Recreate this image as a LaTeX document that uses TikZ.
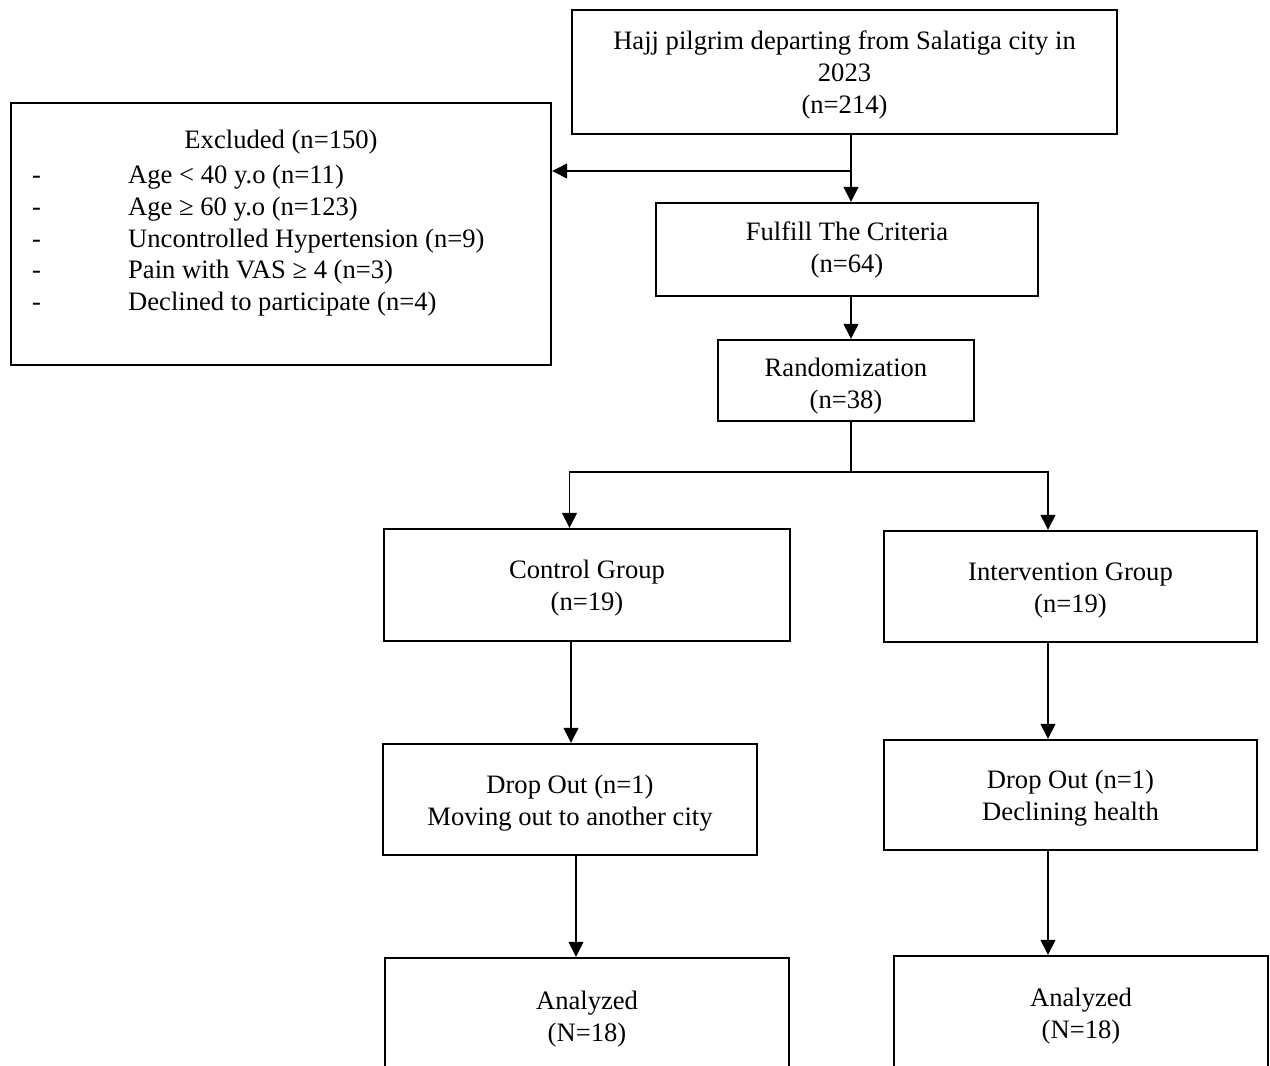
\documentclass[tikz,border=0pt]{standalone}
\usepackage{fontspec}
\setmainfont{Liberation Serif}
\usetikzlibrary{arrows.meta}
\newcommand\diagfont{\fontsize{26.6}{32}\selectfont}
\begin{document}
\begin{tikzpicture}[x=1pt,y=-1pt,
  box/.style={draw, line width=2.4pt, rectangle, inner sep=0pt},
  txt/.style={inner sep=0pt, font=\diagfont, align=center},
  conn/.style={line width=1.3pt},
  arr/.style={conn, -{Triangle[length=15pt,width=15pt]}}
]
\useasboundingbox (0,0) rectangle (1270,1066);
\clip (0,0) rectangle (1270,1066);

% boxes
\node[box, minimum width=545pt, minimum height=124pt] (top) at (844.5,72) {};
\node[box, minimum width=540pt, minimum height=262pt] (excl) at (281,234) {};
\node[box, minimum width=382pt, minimum height=93pt] (ful) at (847,249.5) {};
\node[box, minimum width=256pt, minimum height=81pt] (rand) at (846,380.5) {};
\node[box, minimum width=406pt, minimum height=112pt] (ctrl) at (587,585) {};
\node[box, minimum width=373pt, minimum height=111pt] (intv) at (1070.5,586.5) {};
\node[box, minimum width=374pt, minimum height=111pt] (dropL) at (570,799.5) {};
\node[box, minimum width=373pt, minimum height=110pt] (dropR) at (1070.5,795) {};
\node[box, minimum width=404pt, minimum height=117pt] (anL) at (587,1016.5) {};
\node[box, minimum width=374pt, minimum height=115pt] (anR) at (1081,1013.5) {};

% texts
\node[txt] (topT) at ([yshift=-3pt]top.center)
  {Hajj pilgrim departing from Salatiga city in\\2023\\(n=214)};
\node[txt, anchor=base] (exT) at (281,148) {Excluded (n=150)};
\node[txt, anchor=base west] (ex1) at (32,183) {\makebox[96pt][l]{-}Age < 40 y.o (n=11)};
\node[txt, anchor=base west] (ex2) at (32,215) {\makebox[96pt][l]{-}Age ≥ 60 y.o (n=123)};
\node[txt, anchor=base west] (ex3) at (32,247) {\makebox[96pt][l]{-}Uncontrolled Hypertension (n=9)};
\node[txt, anchor=base west] (ex4) at (32,278) {\makebox[96pt][l]{-}Pain with VAS ≥ 4 (n=3)};
\node[txt, anchor=base west] (ex5) at (32,310) {\makebox[96pt][l]{-}Declined to participate (n=4)};
\node[txt] (fulT) at (ful.center) {Fulfill The Criteria\\(n=64)};
\node[txt] (randT) at ([yshift=-6pt]rand.center) {Randomization\\(n=38)};
\node[txt] (ctrlT) at ([yshift=-3.5pt]ctrl.center) {Control Group\\(n=19)};
\node[txt] (intvT) at ([yshift=-4pt]intv.center) {Intervention Group\\(n=19)};
\node[txt] (dropLT) at ([yshift=-4pt]dropL.center) {Drop Out (n=1)\\Moving out to another city};
\node[txt] (dropRT) at ([yshift=-3pt]dropR.center) {Drop Out (n=1)\\Declining health};
\node[txt] (anLT) at ([yshift=-3pt]anL.center) {Analyzed\\(N=18)};
\node[txt] (anRT) at ([yshift=-3pt]anR.center) {Analyzed\\(N=18)};

% connectors
\coordinate (c1) at (851,171);
\coordinate (split) at (851,472);
\draw[arr] (top.south -| c1) -- (ful.north -| c1);
\draw[arr] (c1) -- (excl.east |- c1);
\draw[arr] (ful.south -| c1) -- (rand.north -| c1);
\draw[conn] (rand.south -| split) -- (split);
\draw[arr] (split) -| ([xshift=-17.5pt]ctrl.north);
\draw[arr] (split) -| ([xshift=-22.5pt]intv.north);
\draw[arr] ([xshift=1pt]ctrl.south -| dropL.north) -- ([xshift=1pt]dropL.north);
\draw[arr] ([xshift=6pt]dropL.south) -- ([xshift=6pt]dropL.south |- anL.north);
\draw[arr] ([xshift=-22.5pt]intv.south) -- ([xshift=-22.5pt]dropR.north);
\draw[arr] ([xshift=-22.5pt]dropR.south) -- ([xshift=-22.5pt]dropR.south |- anR.north);
\end{tikzpicture}
\end{document}
